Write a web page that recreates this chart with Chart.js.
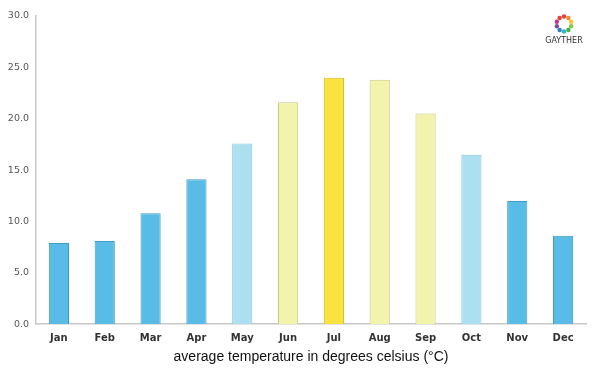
<!DOCTYPE html>
<html>
<head>
<meta charset="utf-8">
<script src="https://cdn.jsdelivr.net/npm/chart.js@4"></script>
<style>
  html, body { margin: 0; padding: 0; background: #fff; }
  #wrap { width: 600px; height: 375px; position: relative; }
</style>
</head>
<body>
<div id="wrap"><canvas id="tempCanvas"></canvas></div>
<script>
// months and average temperatures
const months = ["Jan", "Feb", "Mar", "Apr", "May", "Jun", "Jul", "Aug", "Sep", "Oct", "Nov", "Dec"];
const temps = [7.9, 8.1, 10.8, 14.1, 17.6, 21.6, 24.0, 23.8, 20.5, 16.5, 12.0, 8.6];
const axisTitle = "average temperature in degrees celsius (°C)";
const logoText = "GAYTHER";

// bar colours by season
const fills = ["#58bce6", "#58bce6", "#58bce6", "#58bce6", "#acdff0", "#f3f4ac",
  "#fae23f", "#f3f4ac", "#f3f4ac", "#acdff0", "#58bce6", "#58bce6"];
const borders = ["#3f9cc6", "#3f9cc6", "#3f9cc6", "#3f9cc6", "#8fc3d8", "#c9c98e",
  "#d9bf2e", "#c9c98e", "#c9c98e", "#8fc3d8", "#3f9cc6", "#3f9cc6"];

// small logo drawn in the top right corner
const logoPlugin = {
  id: "logo",
  afterDraw(chart) {
    const c = chart.ctx;
    const cx = 564, cy = 24;
    const cols = ["#e8413a", "#f28a2e", "#f5c52c", "#8cc63f", "#3bb54a", "#2fb3c6",
      "#2f7fc6", "#7a4fa0", "#c2338c", "#e8413a"];
    c.save();
    for (let i = 0; i < 10; i++) {
      const a = (i / 10) * Math.PI * 2 - Math.PI / 2;
      c.fillStyle = cols[i];
      c.beginPath();
      c.arc(cx + Math.cos(a) * 7.5, cy + Math.sin(a) * 7.5, 2.2, 0, Math.PI * 2);
      c.fill();
    }
    c.fillStyle = "#333";
    c.font = "8px 'DejaVu Sans'";
    c.textAlign = "center";
    c.textBaseline = "middle";
    c.fillText(logoText, cx, cy + 17);
    c.restore();
  }
};

let ctx = document.getElementById("tempCanvas").getContext("2d");
new Chart(ctx, {
  type: "bar",
  data: {
    labels: months,
    datasets: [
      {
        data: temps,
        backgroundColor: fills,
        borderColor: borders,
        borderWidth: 1,
        barPercentage: 0.44,
        categoryPercentage: 1,
      },
    ],
  },
  options: {
    responsive: true,
    maintainAspectRatio: false,
    animation: false,
    layout: { padding: { top: 16, right: 14, left: 0, bottom: 9 } },
    scales: {
      x: {
        grid: { display: false, drawTicks: false },
        border: { color: "#c8c8c8", width: 1.5 },
        ticks: {
          color: "#333",
          padding: 8,
          font: { family: "'DejaVu Sans'", size: 10, weight: "bold" },
        },
        title: {
          display: true,
          text: axisTitle,
          color: "#111",
          padding: { top: -3, bottom: 0 },
          font: { family: "'Liberation Sans'", size: 14 },
        },
      },
      y: {
        min: 0,
        max: 30,
        grid: { display: false, drawTicks: false },
        border: { color: "#c8c8c8", width: 1.5 },
        afterFit(scale) { scale.width = 36; },
        ticks: {
          stepSize: 5,
          color: "#555",
          padding: 7,
          font: { family: "'DejaVu Sans'", size: 9.5 },
          callback: (v) => v.toFixed(1),
        },
      },
    },
    plugins: {
      legend: { display: false },
      tooltip: { enabled: false },
    },
  },
  plugins: [logoPlugin],
});
</script>
</body>
</html>
